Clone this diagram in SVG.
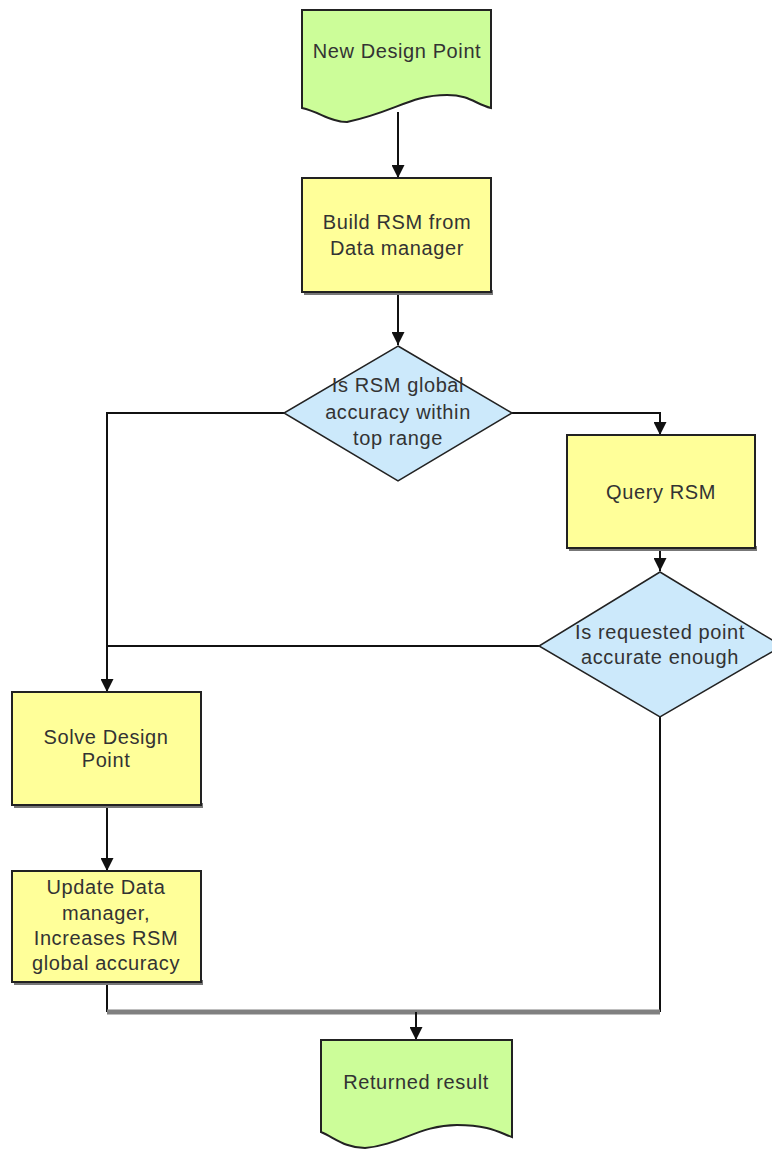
<svg xmlns="http://www.w3.org/2000/svg" width="772" height="1149" viewBox="0 0 772 1149">
<defs>
<style>
.doc{fill:#ccfd99;stroke:#222;stroke-width:2}
.box{fill:#ffff99;stroke:#222;stroke-width:2}
.shadow{fill:#777}
.dia{fill:#cce9fb;stroke:#222;stroke-width:1.5}
.t{font-family:"Liberation Sans",Arial,sans-serif;font-size:20px;letter-spacing:0.6px;fill:#333;text-anchor:middle}
.c{fill:none;stroke:#111;stroke-width:2}
.g{fill:none;stroke:#808080;stroke-width:5}
</style>
<marker id="ah" viewBox="0 0 10 10" refX="10" refY="5" markerWidth="6.5" markerHeight="6.5" markerUnits="strokeWidth" orient="auto">
<path d="M0,0 L10,5 L0,10 z" fill="#111"/>
</marker>
</defs>
<rect width="772" height="1149" fill="#fff"/>
<g id="connectors">
<line class="c" x1="398" y1="112" x2="398" y2="178" marker-end="url(#ah)"/>
<line class="c" x1="398" y1="295" x2="398" y2="345" marker-end="url(#ah)"/>
<polyline class="c" points="284,413 107,413 107,692" marker-end="url(#ah)"/>
<polyline class="c" points="512,413 660,413 660,435" marker-end="url(#ah)"/>
<line class="c" x1="660" y1="550" x2="660" y2="571" marker-end="url(#ah)"/>
<line class="c" x1="539" y1="646" x2="107" y2="646"/>
<line class="c" x1="107" y1="807" x2="107" y2="871" marker-end="url(#ah)"/>
<line class="c" x1="107" y1="985" x2="107" y2="1012"/>
<line class="c" x1="660" y1="717" x2="660" y2="1012"/>
<line class="g" x1="107" y1="1012" x2="660" y2="1012"/>
<line class="c" x1="416" y1="1012" x2="416" y2="1040" marker-end="url(#ah)"/>
</g>
<g id="new-design-point">
<path class="doc" d="M302,10 L491,10 L491,108 C475,104 470,95 447,95 C410,95 395,112 347,122 C330,122 320,112 302,108 Z"/>
<text class="t" x="397" y="58">New Design Point</text>
</g>
<g id="build-rsm">
<rect class="shadow" x="304" y="290" width="189" height="5"/>
<rect class="box" x="302" y="178" width="189" height="114"/>
<text class="t" x="397" y="229">Build RSM from</text>
<text class="t" x="397" y="255">Data manager</text>
</g>
<g id="decision-global">
<polygon class="dia" points="398,346 512,413 398,481 284,413"/>
<text class="t" x="398" y="392">Is RSM global</text>
<text class="t" x="398" y="419">accuracy within</text>
<text class="t" x="398" y="445">top range</text>
</g>
<g id="query-rsm">
<rect class="shadow" x="569" y="546" width="188" height="5"/>
<rect class="box" x="567" y="435" width="188" height="113"/>
<text class="t" x="661" y="499">Query RSM</text>
</g>
<g id="decision-point">
<polygon class="dia" points="660,572 782,646 660,717 539,646"/>
<text class="t" x="660" y="639">Is requested point</text>
<text class="t" x="660" y="664">accurate enough</text>
</g>
<g id="solve-design-point">
<rect class="shadow" x="14" y="803" width="189" height="5"/>
<rect class="box" x="12" y="692" width="189" height="113"/>
<text class="t" x="106" y="744">Solve Design</text>
<text class="t" x="106" y="767">Point</text>
</g>
<g id="update-data-manager">
<rect class="shadow" x="14" y="980" width="189" height="5"/>
<rect class="box" x="12" y="871" width="189" height="111"/>
<text class="t" x="106" y="894">Update Data</text>
<text class="t" x="106" y="920">manager,</text>
<text class="t" x="106" y="945">Increases RSM</text>
<text class="t" x="106" y="970">global accuracy</text>
</g>
<g id="returned-result">
<path class="doc" d="M321,1040 L512,1040 L512,1137 C500,1133 490,1125 457,1125 C420,1125 400,1145 365,1148 C345,1148 335,1138 321,1132 Z"/>
<text class="t" x="416" y="1089">Returned result</text>
</g>
</svg>
